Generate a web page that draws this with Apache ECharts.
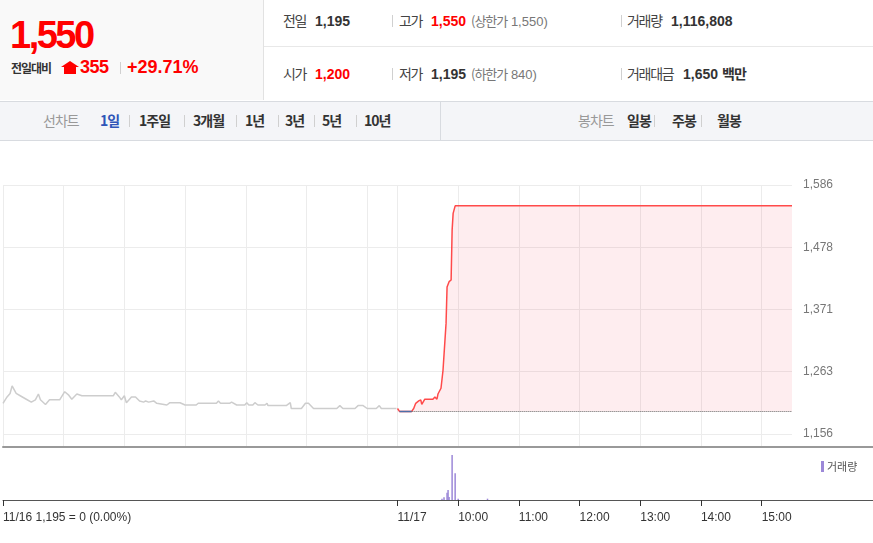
<!DOCTYPE html>
<html>
<head>
<meta charset="utf-8">
<script src="https://cdn.jsdelivr.net/npm/echarts@6/dist/echarts.min.js"></script>
<style>
	body{margin:0;width:873px;height:543px;overflow:hidden;background:#fff;font-family:"Liberation Sans","Noto Sans CJK KR",sans-serif;color:#333;}
	.abs{position:absolute;white-space:nowrap;line-height:20px;}
	.kr{font-family:"Noto Sans CJK KR",sans-serif;letter-spacing:-1px;}
	.leftBox{position:absolute;left:0;top:0;width:263px;height:100px;background:#f9f9f9;border-right:1px solid #e2e2e2;}
	.rowLine{position:absolute;left:264px;top:46px;width:609px;height:1px;background:#e8e8e8;}
	.sep{position:absolute;width:1px;height:12px;background:#d0d0d0;}
	.lbl{font-size:14px;color:#444;letter-spacing:-1.3px;}
	.num{font-size:14px;font-weight:bold;color:#333;}
	.red{color:#f00;}
	.sub{font-size:13px;color:#777;}
	.tabBar{position:absolute;left:0;top:101px;width:873px;height:38px;background:#f4f5f8;border-top:1px solid #d8dbe0;border-bottom:1px solid #d8dbe0;}
	.tab{font-size:14px;font-weight:bold;color:#333;}
	.tabOff{font-size:14px;color:#999;}
	#chart{position:absolute;left:0;top:0;width:873px;height:543px;}
</style>
</head>
<body>
<div class="leftBox"></div>
<div class="abs" style="left:10px;top:16px;font-size:38px;line-height:38px;font-weight:bold;color:#f00;letter-spacing:-2.5px;">1,550</div>
<div class="abs kr" style="left:11px;top:58px;font-size:12px;font-weight:bold;color:#333;letter-spacing:-1px;">전일대비</div>
<div style="position:absolute;left:61px;top:61px;width:0;height:0;border-left:9px solid transparent;border-right:9px solid transparent;border-bottom:6px solid #f00;"></div>
<div style="position:absolute;left:64px;top:67px;width:12px;height:7px;background:#f00;"></div>
<div class="abs" style="left:80px;top:57px;font-size:18px;font-weight:bold;color:#f00;letter-spacing:-0.5px;">355</div>
<div class="sep" style="left:120px;top:62px;"></div>
<div class="abs" style="left:127px;top:57px;font-size:18px;font-weight:bold;color:#f00;">+29.71%</div>

<div class="rowLine"></div>
<div class="abs kr lbl" style="left:283px;top:10px;">전일</div>
<div class="abs num" style="left:315px;top:11px;">1,195</div>
<div class="sep" style="left:392px;top:15px;"></div>
<div class="abs kr lbl" style="left:399px;top:10px;">고가</div>
<div class="abs num red" style="left:431px;top:11px;">1,550</div>
<div class="abs sub" style="left:471px;top:11px;"><span class="kr">(상한가</span> 1,550)</div>
<div class="sep" style="left:621px;top:15px;"></div>
<div class="abs kr lbl" style="left:627px;top:10px;">거래량</div>
<div class="abs num" style="left:671px;top:11px;">1,116,808</div>

<div class="abs kr lbl" style="left:283px;top:63px;">시가</div>
<div class="abs num red" style="left:315px;top:64px;">1,200</div>
<div class="sep" style="left:392px;top:68px;"></div>
<div class="abs kr lbl" style="left:399px;top:63px;">저가</div>
<div class="abs num" style="left:431px;top:64px;">1,195</div>
<div class="abs sub" style="left:471px;top:64px;"><span class="kr">(하한가</span> 840)</div>
<div class="sep" style="left:621px;top:68px;"></div>
<div class="abs kr lbl" style="left:627px;top:63px;">거래대금</div>
<div class="abs num" style="left:683px;top:64px;">1,650</div>
<div class="abs kr" style="left:722px;top:63px;font-size:14px;font-weight:bold;">백만</div>

<div class="tabBar"></div>
<div style="position:absolute;left:440px;top:102px;width:1px;height:38px;background:#d8dbe0;"></div>
<div class="abs kr tabOff" style="left:43px;top:110px;">선차트</div>
<div class="abs kr tab" style="left:100px;top:110px;color:#2f55b8;">1일</div>
<div class="sep" style="left:129px;top:115px;"></div>
<div class="abs kr tab" style="left:139px;top:110px;">1주일</div>
<div class="sep" style="left:184px;top:115px;"></div>
<div class="abs kr tab" style="left:193px;top:110px;">3개월</div>
<div class="sep" style="left:236px;top:115px;"></div>
<div class="abs kr tab" style="left:245px;top:110px;">1년</div>
<div class="sep" style="left:278px;top:115px;"></div>
<div class="abs kr tab" style="left:285px;top:110px;">3년</div>
<div class="sep" style="left:314px;top:115px;"></div>
<div class="abs kr tab" style="left:322px;top:110px;">5년</div>
<div class="sep" style="left:356px;top:115px;"></div>
<div class="abs kr tab" style="left:364px;top:110px;">10년</div>
<div class="abs kr tabOff" style="left:578px;top:110px;">봉차트</div>
<div class="abs kr tab" style="left:627px;top:110px;">일봉</div>
<div class="sep" style="left:654px;top:115px;"></div>
<div class="abs kr tab" style="left:672px;top:110px;">주봉</div>
<div class="sep" style="left:701px;top:115px;"></div>
<div class="abs kr tab" style="left:717px;top:110px;">월봉</div>

<div id="chart"></div>
<script>
	// minutes counted from 11/16 09:00 (11/17 09:00 = 390)
	const prevTime = [0,4,7,9,10,13,17,20,23,28,32,35,37,42,46,56,61,65,68,73,78,109,111,115,117,120,122,127,131,135,139,141,144,149,152,162,165,175,180,191,193,211,213,215,224,226,231,239,241,243,247,249,252,259,261,262,280,284,285,295,299,302,307,330,333,336,348,351,356,360,369,372,374,389];
	const prevPrice = [1209,1220,1226,1239,1239,1226,1222,1219,1216,1211,1215,1225,1215,1207,1215,1215,1229,1223,1216,1225,1222,1222,1228,1220,1215,1222,1210,1220,1220,1213,1211,1213,1211,1213,1209,1206,1210,1210,1206,1206,1209,1209,1213,1209,1209,1211,1206,1206,1210,1206,1206,1210,1206,1206,1209,1205,1205,1210,1200,1200,1209,1209,1200,1200,1205,1200,1200,1205,1205,1200,1200,1205,1200,1200];

	const todayTime = [390,392,404,406,408,411,413,414,417,425,427,429,430,433,435,438,439,441,443,444,445,447,780];
	const todayPrice = [1200,1195,1195,1200,1209,1213,1215,1207,1216,1216,1220,1216,1225,1235,1266,1347,1410,1419,1422,1508,1537,1550,1550];

	const flatTime = [392,404];
	const flatPrice = [1195,1195];
	const prevClose = 1195;

	const volTime = [434,436,439,440,441,444,447,450,479];
	const volAmount = [15000,30000,83000,113000,34000,510000,302000,15000,15000];

	const priceTicks = [1156,1263.5,1371,1478.5,1586];
	const gridMinutes = [0,60,120,180,240,300,360,390,450,510,570,630,690,750];
	const axisMinutes = [0,390,450,510,570,630,690,750];
	const axisLabels = ['11/16 1,195 = 0 (0.00%)','11/17','10:00','11:00','12:00','13:00','14:00','15:00'];

	function pairs(xs, ys){
		let out = [];
		for(let i=0;i<xs.length;i++){ out.push([xs[i], ys[i]]); }
		return out;
	}

	let chart = echarts.init(document.getElementById('chart'));
	let option = {
		backgroundColor: 'transparent',
		animation: false,
		grid: [
			{left: 3, right: 81, top: 185, height: 262},
			{left: 3, right: 0, top: 447, height: 53}
		],
		legend: {
			data: ['거래량'],
			left: 816, top: 456,
			icon: 'rect', itemWidth: 3, itemHeight: 11, itemGap: 4,
			textStyle: {color: '#555', fontSize: 11, fontFamily: 'Noto Sans CJK KR', padding: [0,0,0,-2]}
		},
		xAxis: [
			{
				gridIndex: 0, type: 'value', min: 0, max: 780,
				axisLine: {show: false},
				axisLabel: {show: false},
				axisTick: {show: false, customValues: gridMinutes},
				splitLine: {show: true, lineStyle: {color: '#ececec', width: 1}}
			},
			{
				gridIndex: 1, type: 'value', min: 0, max: 860.1, position: 'bottom',
				axisLine: {onZero: false, lineStyle: {color: '#555', width: 1}},
				axisTick: {customValues: axisMinutes, length: 6, lineStyle: {color: '#333'}},
				axisLabel: {
					customValues: axisMinutes, align: 'left', color: '#333', fontSize: 12, margin: 12,
					fontFamily: 'Liberation Sans',
					formatter: function(v){ return axisLabels[axisMinutes.indexOf(v)]; }
				},
				splitLine: {show: false}
			},
			{
				gridIndex: 1, type: 'value', min: 0, max: 860.1, position: 'top',
				axisLine: {onZero: false, lineStyle: {color: '#999', width: 2}},
				axisTick: {show: false},
				axisLabel: {show: false},
				splitLine: {show: false}
			}
		],
		yAxis: [
			{
				gridIndex: 0, type: 'value', position: 'right', min: 1133.5, max: 1586,
				axisLine: {show: false},
				axisTick: {show: false, customValues: priceTicks},
				axisLabel: {
					customValues: priceTicks, color: '#777', fontSize: 12, margin: 11, fontFamily: 'Liberation Sans',
					padding: [3, 0, 0, 0],
					formatter: function(v){ return Math.floor(v).toLocaleString('en-US'); }
				},
				splitLine: {lineStyle: {color: '#ececec', width: 1}}
			},
			{gridIndex: 1, type: 'value', min: 0, max: 600000, show: false}
		],
		series: [
			{
				name: '전일', type: 'line', xAxisIndex: 0, yAxisIndex: 0,
				data: pairs(prevTime, prevPrice),
				symbol: 'none',
				lineStyle: {color: '#cdcdcd', width: 1.5}
			},
			{
				name: '당일', type: 'line', xAxisIndex: 0, yAxisIndex: 0,
				data: pairs(todayTime, todayPrice),
				symbol: 'none',
				lineStyle: {color: '#ff4a4a', width: 1.5},
				areaStyle: {origin: prevClose, color: 'rgba(245,70,95,0.14)'}
			},
			{
				name: '보합', type: 'line', xAxisIndex: 0, yAxisIndex: 0, z: 5,
				data: pairs(flatTime, flatPrice),
				symbol: 'none',
				lineStyle: {color: '#4d6ea8', width: 1.5},
				markLine: {
					silent: true, symbol: 'none', label: {show: false}, z: 6,
					lineStyle: {type: 'dotted', color: '#666', width: 1},
					data: [[{coord: [404, prevClose]}, {coord: [780, prevClose]}]]
				}
			},
			{
				name: '거래량', type: 'bar', xAxisIndex: 1, yAxisIndex: 1,
				data: pairs(volTime, volAmount),
				barWidth: 1.5,
				itemStyle: {color: '#9c88d8'}
			}
		]
	};
	chart.setOption(option);
</script>
</body>
</html>
